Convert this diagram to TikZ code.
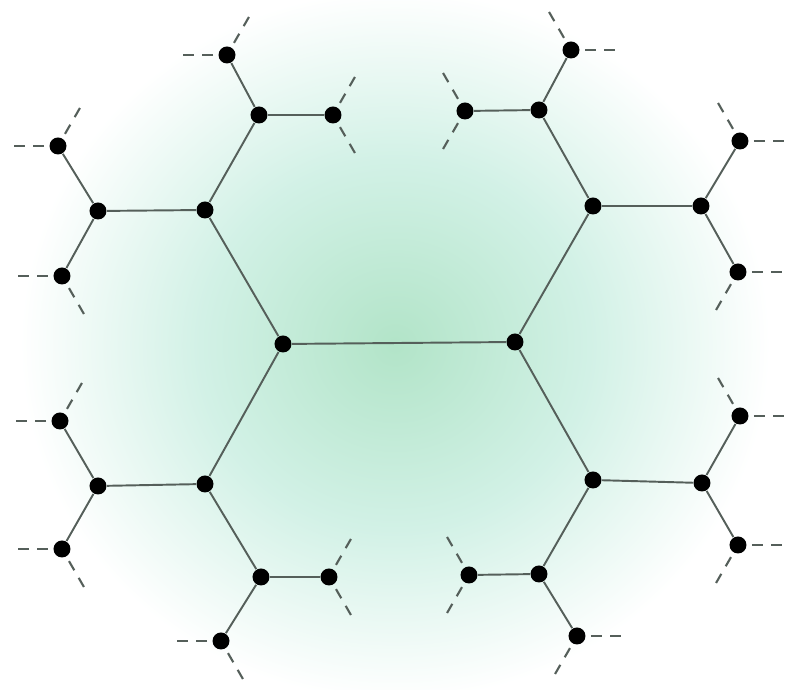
\documentclass[tikz,border=0pt]{standalone}
\definecolor{bgcore}{RGB}{178,228,200}
\definecolor{bgmid}{RGB}{210,241,230}
\definecolor{bondgray}{RGB}{85,95,90}
\pgfdeclareradialshading{glow}{\pgfpointorigin}{color(0bp)=(bgcore); color(13bp)=(bgmid); color(25bp)=(white); color(50bp)=(white)}
\begin{document}
\begin{tikzpicture}[
  site/.style={circle, fill=black, minimum size=1.7mm, inner sep=0pt},
  bond/.style={draw=bondgray, line width=0.55pt},
  stub/.style={draw=bondgray, line width=0.6pt, dash pattern=on 3pt off 2.5pt, shorten <=1.4mm}
]
  \useasboundingbox (0,0) rectangle (7.9,6.9);
  \begin{scope}
    \clip (0,0) rectangle (7.9,6.9);
    \shade[shading=glow] (3.95,3.45) ellipse (3.75 and 3.55);
  \end{scope}

  % sites of the tree
  \foreach \name/\x/\y in {c1/2.83/3.46, c2/5.15/3.48,
      a1/2.05/4.80, a2/2.05/2.06, a3/5.93/4.84, a4/5.93/2.10,
      b1/0.98/4.79, b2/2.59/5.75, b3/0.98/2.04, b4/2.61/1.13,
      b5/7.01/4.84, b6/5.39/5.80, b7/7.02/2.07, b8/5.39/1.16,
      d1/0.58/5.44, d2/0.62/4.14, d3/2.27/6.35, d4/3.33/5.75,
      d5/0.60/2.69, d6/0.62/1.41, d7/2.21/0.49, d8/3.29/1.13,
      d9/7.40/5.49, d10/7.38/4.18, d11/5.71/6.40, d12/4.65/5.79,
      d13/7.40/2.74, d14/7.38/1.45, d15/5.77/0.54, d16/4.69/1.15} {
    \node[site] (\name) at (\x,\y) {};
  }

  \foreach \u/\v in {c1/c2, c1/a1, c1/a2, c2/a3, c2/a4,
      a1/b1, a1/b2, a2/b3, a2/b4, a3/b5, a3/b6, a4/b7, a4/b8,
      b1/d1, b1/d2, b2/d3, b2/d4, b3/d5, b3/d6, b4/d7, b4/d8,
      b5/d9, b5/d10, b6/d11, b6/d12, b7/d13, b7/d14, b8/d15, b8/d16} {
    \draw[bond] (\u) -- (\v);
  }

  % open ends
  \foreach \leaf/\p/\q in {d1/180/60, d2/180/300, d3/180/60, d4/60/300,
      d5/180/60, d6/180/300, d7/180/300, d8/60/300,
      d9/0/120, d10/0/240, d11/0/120, d12/120/240,
      d13/0/120, d14/0/240, d15/0/240, d16/120/240} {
    \draw[stub] (\leaf.center) -- ++(\p:0.5);
    \draw[stub] (\leaf.center) -- ++(\q:0.5);
  }
\end{tikzpicture}
\end{document}
